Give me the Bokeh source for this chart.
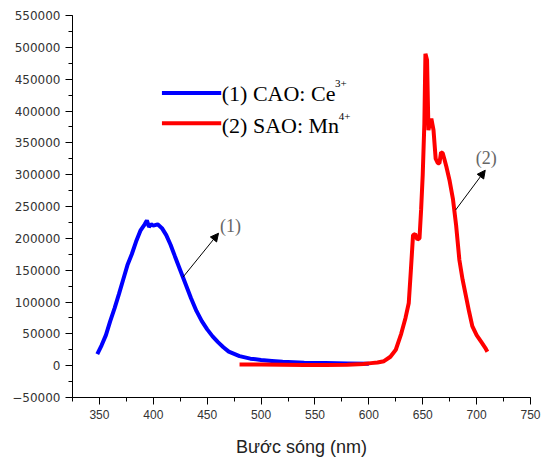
from bokeh.plotting import figure
from bokeh.models import Range1d, SingleIntervalTicker, BasicTickFormatter, Arrow, NormalHead, Label
from bokeh.embed import file_html
from bokeh.resources import INLINE

# Series 1: CAO:Ce3+ (blue)
blue_x = [348, 352, 356, 360, 364, 368, 372, 376, 380, 384, 388, 392, 394, 396, 398, 400,
          404, 408, 412, 416, 420, 425, 430, 435, 440, 445, 450, 455, 460, 465, 470, 480,
          490, 500, 510, 520, 540, 560, 580, 600]
blue_y = [18000, 32000, 48000, 70000, 90000, 112000, 135000, 158000, 175000, 195000, 212000,
          222000, 228000, 218000, 222000, 220000, 222000, 216000, 205000, 190000, 172000,
          150000, 128000, 106000, 86000, 70000, 57000, 46000, 37000, 29000, 22000, 15000,
          11000, 9000, 7500, 6000, 4500, 4000, 3500, 3000]

# Series 2: SAO:Mn4+ (red)
red_x = [480, 500, 520, 540, 560, 580, 595, 602, 608, 614, 620, 625, 630, 634, 637, 639, 641,
         643, 645, 647, 648.5, 650, 651.5, 652.5, 654, 655.3, 656.5, 658, 660, 662, 664, 665.5,
         667, 668.5, 670, 672, 675, 678, 681, 684, 687, 690, 693, 696, 700, 704, 708, 710]
red_y = [2000, 2000, 1500, 1000, 1000, 1500, 2500, 4000, 5000, 7000, 14000, 25000, 50000,
         75000, 98000, 150000, 205000, 207000, 198000, 200000, 245000, 300000, 380000, 490000,
         480000, 370000, 380000, 388000, 370000, 325000, 318000, 318000, 335000, 334000,
         325000, 312000, 290000, 262000, 220000, 166000, 135000, 110000, 85000, 62000,
         48000, 38000, 28000, 22000]

legend_labels = ["(1) CAO: Ce", "(2) SAO: Mn"]
legend_sups = ["3+", "4+"]
x_label = "Bước sóng (nm)"

p = figure(width=548, height=460, output_backend="svg", toolbar_location=None,
           x_range=Range1d(325, 750), y_range=Range1d(-50000, 550000),
           min_border_left=72, min_border_right=18, min_border_top=15, min_border_bottom=63)
p.outline_line_color = None
p.xgrid.visible = False
p.ygrid.visible = False
p.background_fill_color = "white"
p.border_fill_color = "white"

p.xaxis.ticker = SingleIntervalTicker(interval=50, num_minor_ticks=2)
p.yaxis.ticker = SingleIntervalTicker(interval=50000, num_minor_ticks=2)
p.yaxis.formatter = BasicTickFormatter(use_scientific=False)
for ax in (p.xaxis, p.yaxis):
    ax.axis_line_color = "black"
    ax.major_tick_line_color = "black"
    ax.minor_tick_line_color = "black"
    ax.major_tick_out = 7
    ax.major_tick_in = 0
    ax.minor_tick_out = 4
    ax.minor_tick_in = 0
    ax.major_label_text_color = "#333333"
    ax.major_label_text_font_style = "normal"
p.xaxis.major_label_text_font = "Liberation Sans"
p.xaxis.major_label_text_font_size = "12px"
p.yaxis.major_label_text_font = "DejaVu Sans"
p.yaxis.major_label_text_font_size = "12px"
p.xaxis.axis_label = x_label
p.xaxis.axis_label_text_font = "Liberation Sans"
p.xaxis.axis_label_text_font_size = "18px"
p.xaxis.axis_label_text_font_style = "normal"
p.xaxis.axis_label_text_color = "#222222"
p.xaxis.axis_label_standoff = 15

p.line(blue_x, blue_y, line_color="#0000FF", line_width=4)
p.line(red_x, red_y, line_color="#FF0000", line_width=4)

# legend (drawn manually)
p.line([408, 463], [428400, 428400], line_color="#0000FF", line_width=4)
p.line([408, 463], [380900, 380900], line_color="#FF0000", line_width=4)
for lab, yc in [(legend_labels[0], 427000), (legend_labels[1], 377000)]:
    p.add_layout(Label(x=463.5, y=yc, text=lab, text_font="Liberation Serif",
                       text_font_size="22px", text_baseline="middle", text_color="black"))
for sup, xs, ys in [(legend_sups[0], 568.5, 443000), (legend_sups[1], 572, 391000)]:
    p.add_layout(Label(x=xs, y=ys, text=sup, text_font="Liberation Serif",
                       text_font_size="11px", text_baseline="middle", text_color="black"))

# annotations
p.add_layout(Arrow(end=NormalHead(size=8, fill_color="black", line_color="black"),
                   x_start=427.5, y_start=139000, x_end=460.5, y_end=208000,
                   line_color="black", line_width=1))
p.add_layout(Arrow(end=NormalHead(size=8, fill_color="black", line_color="black"),
                   x_start=680.5, y_start=244500, x_end=708, y_end=307000,
                   line_color="black", line_width=1))
p.add_layout(Label(x=471.5, y=219500, text="(1)", text_font="Liberation Serif",
                   text_font_size="18px", text_align="center", text_baseline="middle",
                   text_color="#666666"))
p.add_layout(Label(x=709, y=326500, text="(2)", text_font="Liberation Serif",
                   text_font_size="18px", text_align="center", text_baseline="middle",
                   text_color="#666666"))

open("out.html", "w").write(file_html(p, INLINE))
